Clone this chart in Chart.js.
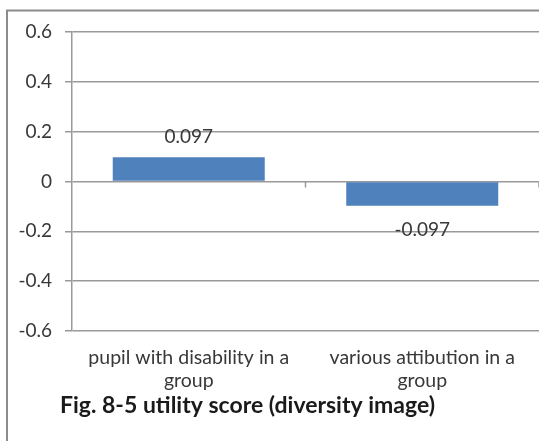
<!DOCTYPE html>
<html>
<head>
<meta charset="utf-8">
<script src="https://cdn.jsdelivr.net/npm/chart.js@4/dist/chart.umd.min.js"></script>
<style>
  html, body { margin: 0; padding: 0; background: #fff; }
  #wrap { position: relative; width: 539px; height: 441px; }
</style>
</head>
<body>
<div id="wrap"><canvas id="chart" width="539" height="441"></canvas></div>
<script>
// Categories (multi-line axis labels), utility scores and axis ticks
const categories = [
  ['pupil with disability in a', 'group'],
  ['various attibution in a', 'group']
];
const utilityScores = [0.097, -0.097];
const yTicks = [-0.6, -0.4, -0.2, 0, 0.2, 0.4, 0.6];
const captionText = 'Fig. 8-5 utility score (diversity image)';

const FONT = 'Lato, "Open Sans", sans-serif';
const TEXT = '#383838';
const GRID = '#999999';

// Outer frame (top and left edges) behind the chart
const framePlugin = {
  id: 'frame',
  beforeDraw(chart) {
    const ctx = chart.ctx;
    ctx.save();
    ctx.fillStyle = '#fff';
    ctx.fillRect(0, 0, chart.width, chart.height);
    ctx.strokeStyle = '#8c8c8c';
    ctx.lineWidth = 2;
    ctx.beginPath();
    ctx.moveTo(7, chart.height);
    ctx.lineTo(7, 10.5);
    ctx.lineTo(chart.width, 10.5);
    ctx.stroke();
    ctx.restore();
  }
};

// Small category-boundary tick marks hanging from the zero line
const zeroTicksPlugin = {
  id: 'zeroTicks',
  afterDatasetsDraw(chart) {
    const x = chart.scales.x, y = chart.scales.y;
    const y0 = y.getPixelForValue(0);
    const step = x.getPixelForValue(1) - x.getPixelForValue(0);
    const ctx = chart.ctx;
    ctx.save();
    ctx.strokeStyle = GRID;
    ctx.lineWidth = 1.5;
    ctx.beginPath();
    for (let i = 0; i < categories.length; i++) {
      const bx = x.getPixelForValue(i) + step / 2;
      ctx.moveTo(bx, y0);
      ctx.lineTo(bx, y0 + 6);
    }
    ctx.stroke();
    ctx.restore();
  }
};

// Value labels above positive bars and below negative bars
const valueLabelPlugin = {
  id: 'valueLabels',
  afterDatasetsDraw(chart) {
    const ctx = chart.ctx;
    const meta = chart.getDatasetMeta(0);
    const data = chart.data.datasets[0].data;
    ctx.save();
    ctx.font = '19px ' + FONT;
    ctx.fillStyle = TEXT;
    ctx.textAlign = 'center';
    ctx.textBaseline = 'alphabetic';
    meta.data.forEach((bar, i) => {
      const v = data[i];
      const y = v >= 0 ? bar.y - 14 : bar.y + 30;
      ctx.fillText(v.toFixed(3), bar.x, y);
    });
    ctx.restore();
  }
};

// Figure caption under the axis labels
const captionPlugin = {
  id: 'caption',
  afterDraw(chart) {
    const ctx = chart.ctx;
    ctx.save();
    ctx.font = 'bold 23px ' + FONT;
    ctx.fillStyle = '#1a1a1a';
    ctx.textAlign = 'left';
    ctx.textBaseline = 'alphabetic';
    ctx.fillText(captionText, 60, 413);
    ctx.restore();
  }
};

new Chart(document.getElementById('chart'), {
  type: 'bar',
  data: {
    labels: categories,
    datasets: [{
      data: utilityScores,
      backgroundColor: '#4f81bd',
      borderWidth: 0,
      barPercentage: 0.651,
      categoryPercentage: 1.0
    }]
  },
  options: {
    responsive: false,
    animation: false,
    layout: { padding: { top: 32, right: 0, bottom: 0, left: 0 } },
    plugins: {
      legend: { display: false },
      tooltip: { enabled: false },
      title: { display: false }
    },
    scales: {
      x: {
        grid: { display: false, drawTicks: false },
        border: { display: false },
        ticks: {
          color: TEXT,
          font: { family: FONT, size: 19.5, lineHeight: 1.18 },
          padding: 15,
          maxRotation: 0,
          autoSkip: false
        },
        afterFit(scale) { scale.height = 110; }
      },
      y: {
        min: yTicks[0],
        max: yTicks[yTicks.length - 1],
        afterBuildTicks(scale) {
          scale.ticks = yTicks.map(v => ({ value: v }));
        },
        grid: {
          color: GRID,
          lineWidth: 1.5,
          drawTicks: true,
          tickLength: 7,
          tickColor: GRID
        },
        border: { display: true, color: GRID, width: 1.5 },
        ticks: {
          color: TEXT,
          font: { family: FONT, size: 19 },
          padding: 13,
          callback: v => String(Math.round(v * 10) / 10)
        },
        afterFit(scale) { scale.width = 72; }
      }
    }
  },
  plugins: [framePlugin, zeroTicksPlugin, valueLabelPlugin, captionPlugin]
});
</script>
</body>
</html>
